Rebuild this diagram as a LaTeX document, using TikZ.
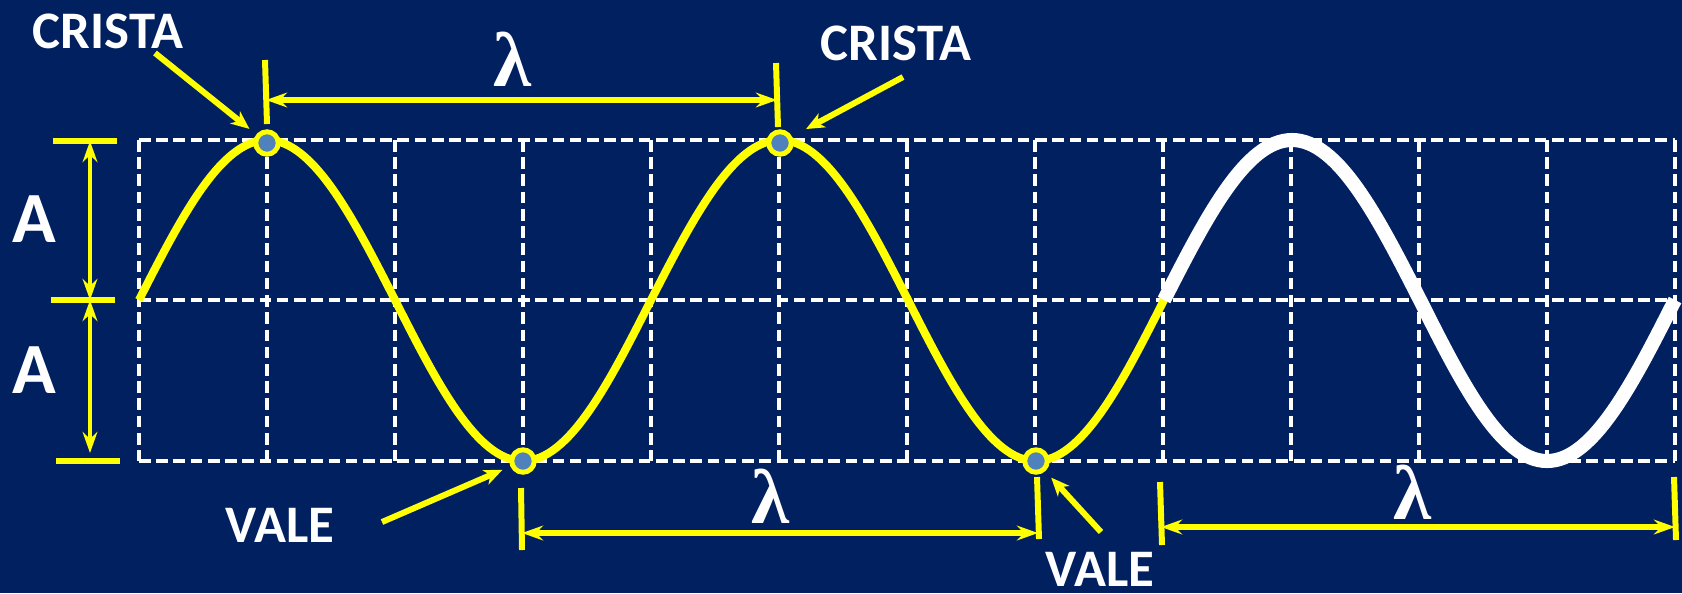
\documentclass[tikz,border=0pt]{standalone}
\usepackage{fontspec}
\setmainfont{Carlito}
\newfontfamily\greekfont{Liberation Serif}
\usetikzlibrary{arrows.meta,positioning}
\definecolor{navyBG}{RGB}{0,32,96}
\definecolor{dotblue}{RGB}{79,129,189}
\definecolor{waveyellow}{RGB}{255,255,0}

\begin{document}
\begin{tikzpicture}[
  x=0.01cm,y=-0.01cm,
  gridline/.style={draw=white,line width=1.25pt,dash pattern=on 3.3pt off 1.6pt},
  yellowwave/.style={draw=waveyellow,line width=2.3pt},
  whitewave/.style={draw=white,line width=4pt},
  crestdot/.style={circle,draw=waveyellow,fill=dotblue,line width=1.4pt,minimum size=6.4pt,inner sep=0pt},
  wordlabel/.style={text=white,font=\bfseries\fontsize{15}{18}\selectfont,inner sep=0pt},
  amplabel/.style={text=white,font=\bfseries\fontsize{20.5}{24}\selectfont,inner sep=0pt},
  lamlabel/.style={text=white,font=\greekfont\bfseries\fontsize{22}{24}\selectfont,inner sep=0pt},
  pointer/.style={draw=waveyellow,line width=1.7pt,shorten >=2.5pt,
    -{Stealth[length=5.2pt,width=4.4pt,inset=1.5pt]}},
  dimline/.style={draw=waveyellow,line width=1.6pt,
    {Stealth[length=6pt,width=4.2pt,inset=2pt]}-{Stealth[length=6pt,width=4.2pt,inset=2pt]}},
  tickmark/.style={draw=waveyellow,line width=1.7pt},
  ampbar/.style={draw=waveyellow,line width=1.8pt}
]
\useasboundingbox (0,0) rectangle (1682,593);
\fill[navyBG] (0,0) rectangle (1682,593);

\foreach \c in {0,...,12}
  \draw[gridline] ({139+128*\c},140) -- ({139+128*\c},461);
\foreach \r in {140,300,461}
  \draw[gridline] (139,\r) -- (1675,\r);

\draw[yellowwave] (139,300) sin (267,140) cos (395,300) sin (523,461) cos (651,300)
  sin (780,140) cos (908,300) sin (1036,461) cos (1164,300);
\draw[whitewave] (1164,300) sin (1292,140) cos (1420,300) sin (1547,461) cos (1675,300);

\node[crestdot] (crest1) at (267,143) {};
\node[crestdot] (crest2) at (780,143) {};
\node[crestdot] (trough1) at (523,461) {};
\node[crestdot] (trough2) at (1036,461) {};

\node[wordlabel] (cristaL) at (108,31) {CRISTA};
\node[wordlabel] (cristaR) at (896,43) {CRISTA};
\node[wordlabel] (valeL) at (280,525) {VALE};
\node[wordlabel] (valeR) at (1100,569) {VALE};

\coordinate (cristaLtail) at (155,53);
\coordinate (cristaRtail) at (903,77);
\coordinate (valeLtail) at (382,522);
\coordinate (valeRtail) at (1101,532);
\draw[pointer] (cristaLtail) -- (crest1);
\draw[pointer,shorten >=4.5pt] (cristaRtail) -- (crest2);
\draw[pointer] (valeLtail) -- (trough1);
\draw[pointer] (valeRtail) -- (trough2);

\draw[tickmark] (265,60) -- (267,124);
\draw[tickmark] (776,63) -- (778,127);
\coordinate (lamTopL) at (266,100);
\coordinate (lamTopR) at (777,100);
\draw[dimline] (lamTopL) -- (lamTopR);
\node[lamlabel] (lamTop) at (512,59) {λ};

\draw[tickmark] (521,488) -- (522,550);
\draw[tickmark] (1037,477) -- (1039,539);
\coordinate (lamMidL) at (522,533);
\coordinate (lamMidR) at (1038,533);
\draw[dimline] (lamMidL) -- (lamMidR);
\node[lamlabel] (lamMid) at (770,496) {λ};

\draw[tickmark] (1160,482) -- (1162,545);
\draw[tickmark] (1674,477) -- (1676,540);
\coordinate (lamRgtL) at (1161,527);
\coordinate (lamRgtR) at (1675,527);
\draw[dimline] (lamRgtL) -- (lamRgtR);
\node[lamlabel] (lamRgt) at (1412,492) {λ};

\draw[ampbar] (53,141) -- (117,141);
\draw[ampbar] (51,300) -- (115,300);
\draw[ampbar] (56,461) -- (120,461);
\coordinate (ampTop) at (90,141);
\coordinate (ampMid) at (90,300);
\coordinate (ampBot) at (90,453);
\draw[dimline,line width=1.3pt] (ampTop) -- (ampMid);
\draw[dimline,line width=1.3pt] (ampMid) -- (ampBot);
\node[amplabel] (ampUp) at (34,219) {A};
\node[amplabel] (ampDown) at (34,370) {A};
\end{tikzpicture}
\end{document}
